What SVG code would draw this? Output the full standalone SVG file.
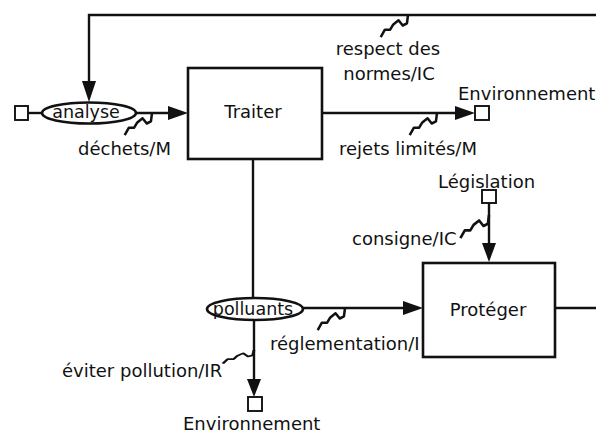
<svg xmlns="http://www.w3.org/2000/svg" xmlns:xlink="http://www.w3.org/1999/xlink" width="596" height="435" viewBox="0 0 596 435">
<style>
text{font-family:"DejaVu Sans","Liberation Sans",sans-serif;font-size:18px;fill:#111}
.ln{stroke:#111;stroke-width:2.4;fill:none}
.box{stroke:#111;stroke-width:2.6;fill:#fff}
.sq{stroke:#111;stroke-width:1.9;fill:#fff}
.ell{stroke:#111;stroke-width:2.6;fill:#fff}
.ah{fill:#111}
.zz{stroke:#111;stroke-width:2.4;fill:none;stroke-linejoin:round}
</style>
<defs>
<path id="zig" d="M0,0 L-1,8 L-5,10 L-9,5 L-14,9 L-17,14 L-22,14 L-26,21"/>
</defs>
<rect width="596" height="435" fill="#fff"/>
<g id="connectors">
<path class="ln" d="M596,15 H89 V84"/>
<polygon class="ah" points="82,81 96,81 89,102"/>
<path class="ln" d="M28,113 H42"/>
<path class="ln" d="M136,113 H170"/>
<polygon class="ah" points="168,106 168,120 188,113"/>
<path class="ln" d="M322,113 H457"/>
<polygon class="ah" points="455,106 455,120 475,113"/>
<path class="ln" d="M253,159 V298"/>
<path class="ln" d="M254,320 V381"/>
<polygon class="ah" points="247,379 261,379 254,397"/>
<path class="ln" d="M303,308 H405"/>
<polygon class="ah" points="403,301 403,315 423,308"/>
<path class="ln" d="M555,308 H596"/>
<path class="ln" d="M489,203 V245"/>
<polygon class="ah" points="482,243 496,243 489,262"/>
<use href="#zig" xlink:href="#zig" class="zz" transform="translate(152,113) scale(1.05)"/>
<use href="#zig" xlink:href="#zig" class="zz" transform="translate(408,15) scale(1.05)"/>
<use href="#zig" xlink:href="#zig" class="zz" transform="translate(437,113) scale(1.05)"/>
<use href="#zig" xlink:href="#zig" class="zz" transform="translate(489,215) scale(1.1)"/>
<use href="#zig" xlink:href="#zig" class="zz" transform="translate(345,308) scale(1.05)"/>
<use href="#zig" xlink:href="#zig" class="zz" transform="translate(254,350) scale(1.2,0.65)"/>
<text x="78" y="155">déchets/M</text>
<text x="388" y="55" text-anchor="middle">respect des</text>
<text x="389" y="80" text-anchor="middle">normes/IC</text>
<text x="339" y="155">rejets limités/M</text>
<text x="352" y="245">consigne/IC</text>
<text x="270" y="350">réglementation/I</text>
<text x="62" y="377">éviter pollution/IR</text>
</g>
<g id="src-analyse">
<rect class="sq" x="15" y="106" width="13" height="14"/>
</g>
<g id="analyse">
<ellipse class="ell" cx="89" cy="113" rx="47" ry="10.5"/>
<text x="86" y="118" text-anchor="middle" style="font-size:17.5px">analyse</text>
</g>
<g id="traiter">
<rect class="box" x="188" y="68" width="134" height="91"/>
<text x="253" y="118" text-anchor="middle">Traiter</text>
</g>
<g id="env-top">
<rect class="sq" x="475" y="106" width="14" height="14"/>
<text x="458" y="100">Environnement</text>
</g>
<g id="legislation">
<text x="438" y="188">Législation</text>
<rect class="sq" x="482" y="190" width="14" height="13"/>
</g>
<g id="proteger">
<rect class="box" x="423" y="263" width="132" height="94"/>
<text x="488" y="316" text-anchor="middle">Protéger</text>
</g>
<g id="polluants">
<ellipse class="ell" cx="255" cy="309" rx="48" ry="11"/>
<text x="253" y="315" text-anchor="middle" style="font-size:17.5px">polluants</text>
</g>
<g id="env-bottom">
<rect class="sq" x="248" y="397" width="14" height="14"/>
<text x="183" y="430">Environnement</text>
</g>
</svg>
